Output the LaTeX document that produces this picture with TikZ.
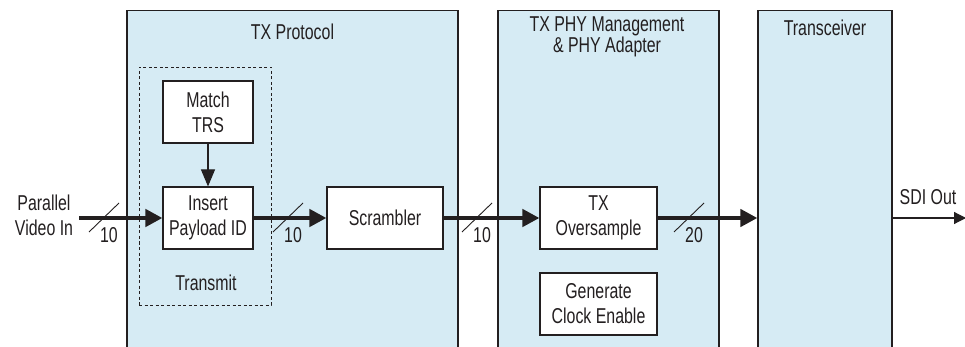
\documentclass[tikz,border=0pt]{standalone}
\usepackage{fontspec}
\setmainfont{Liberation Sans}[FakeStretch=0.74]
\usetikzlibrary{arrows.meta}
\definecolor{pale}{RGB}{214,235,244}
\definecolor{ink}{RGB}{35,31,32}
\begin{document}
\begin{tikzpicture}[x=1pt,y=-1pt,
  font=\fontsize{21.5}{25}\selectfont,
  container/.style={fill=pale, draw=ink, line width=1.2pt, minimum height=380pt, anchor=north, inner sep=0pt},
  block/.style={draw=ink, fill=white, line width=1.1pt, align=center, inner sep=0pt, minimum height=62pt, text=ink},
  bus/.style={draw=ink, line width=4.5pt, -{Triangle[length=17pt,width=17pt]}},
  wire/.style={draw=ink, line width=1.1pt, -{Triangle[length=17pt,width=14pt]}},
  outwire/.style={draw=ink, line width=1.1pt, -{Triangle[length=12pt,width=12pt]}},
  slash/.style={draw=ink, line width=0.9pt},
  lbl/.style={text=ink, align=center, inner sep=0pt},
  group/.style={draw=ink, dashed, dash pattern=on 3pt off 2.5pt, line width=0.9pt}
]
\clip (0,0) rectangle (965,347);
\fill[white] (0,0) rectangle (965,347);

% containers
\node[container, minimum width=331pt] (proto) at (292.5,10) {};
\node[container, minimum width=221pt] (phy) at (608.5,10) {};
\node[container, minimum width=134pt] (xcvr) at (825,10) {};

\node[lbl] (tproto) at (292.5,31.5) {TX Protocol};
\node[lbl, font=\fontsize{21.5}{17}\selectfont] (tphy) at (607,37) {TX PHY Management\\\& PHY Adapter};
\node[lbl] (txcvr) at (825,28) {Transceiver};

% transmit group
\node[group, minimum width=132pt, minimum height=238pt, inner sep=0pt] (grp) at (205,186) {};
\node[lbl] (tgrp) at (206,283) {Transmit};

% blocks
\node[block, minimum width=90pt] (match) at (208,112) {Match\\TRS};
\node[block, minimum width=90pt] (ins) at (208,218) {Insert\\Payload ID};
\node[block, minimum width=116pt] (scr) at (385,218) {Scrambler};
\node[block, minimum width=117pt] (ovs) at (598.5,218) {TX\\Oversample};
\node[block, minimum width=117pt] (gen) at (598.5,304) {Generate\\Clock Enable};

% external labels
\node[lbl] (pvi) at (44,215) {Parallel\\Video In};
\node[lbl] (sdi) at (928,197) {SDI Out};

\coordinate (pin) at (79,218);
\coordinate (pout) at (966,218);

% connectors
\draw[bus] (pin) -- (ins.west);
\draw[bus] (ins.east) -- (scr.west);
\draw[bus] (scr.east) -- (ovs.west);
\draw[bus] (ovs.east) -- (ovs.east -| xcvr.west);
\draw[wire] (match.south) -- (ins.north);
\draw[outwire] (xcvr.east |- pout) -- (pout);

% bus width marks
\foreach \c/\n/\t in {104/a/10, 288/b/10, 477/c/10, 689/d/20}{
  \coordinate (s\n) at (\c,218);
  \draw[slash] ([shift={(-15,14)}]s\n) -- ([shift={(15,-15)}]s\n);
  \node[lbl] (w\n) at ([shift={(5,17)}]s\n) {\t};
}
\end{tikzpicture}
\end{document}
